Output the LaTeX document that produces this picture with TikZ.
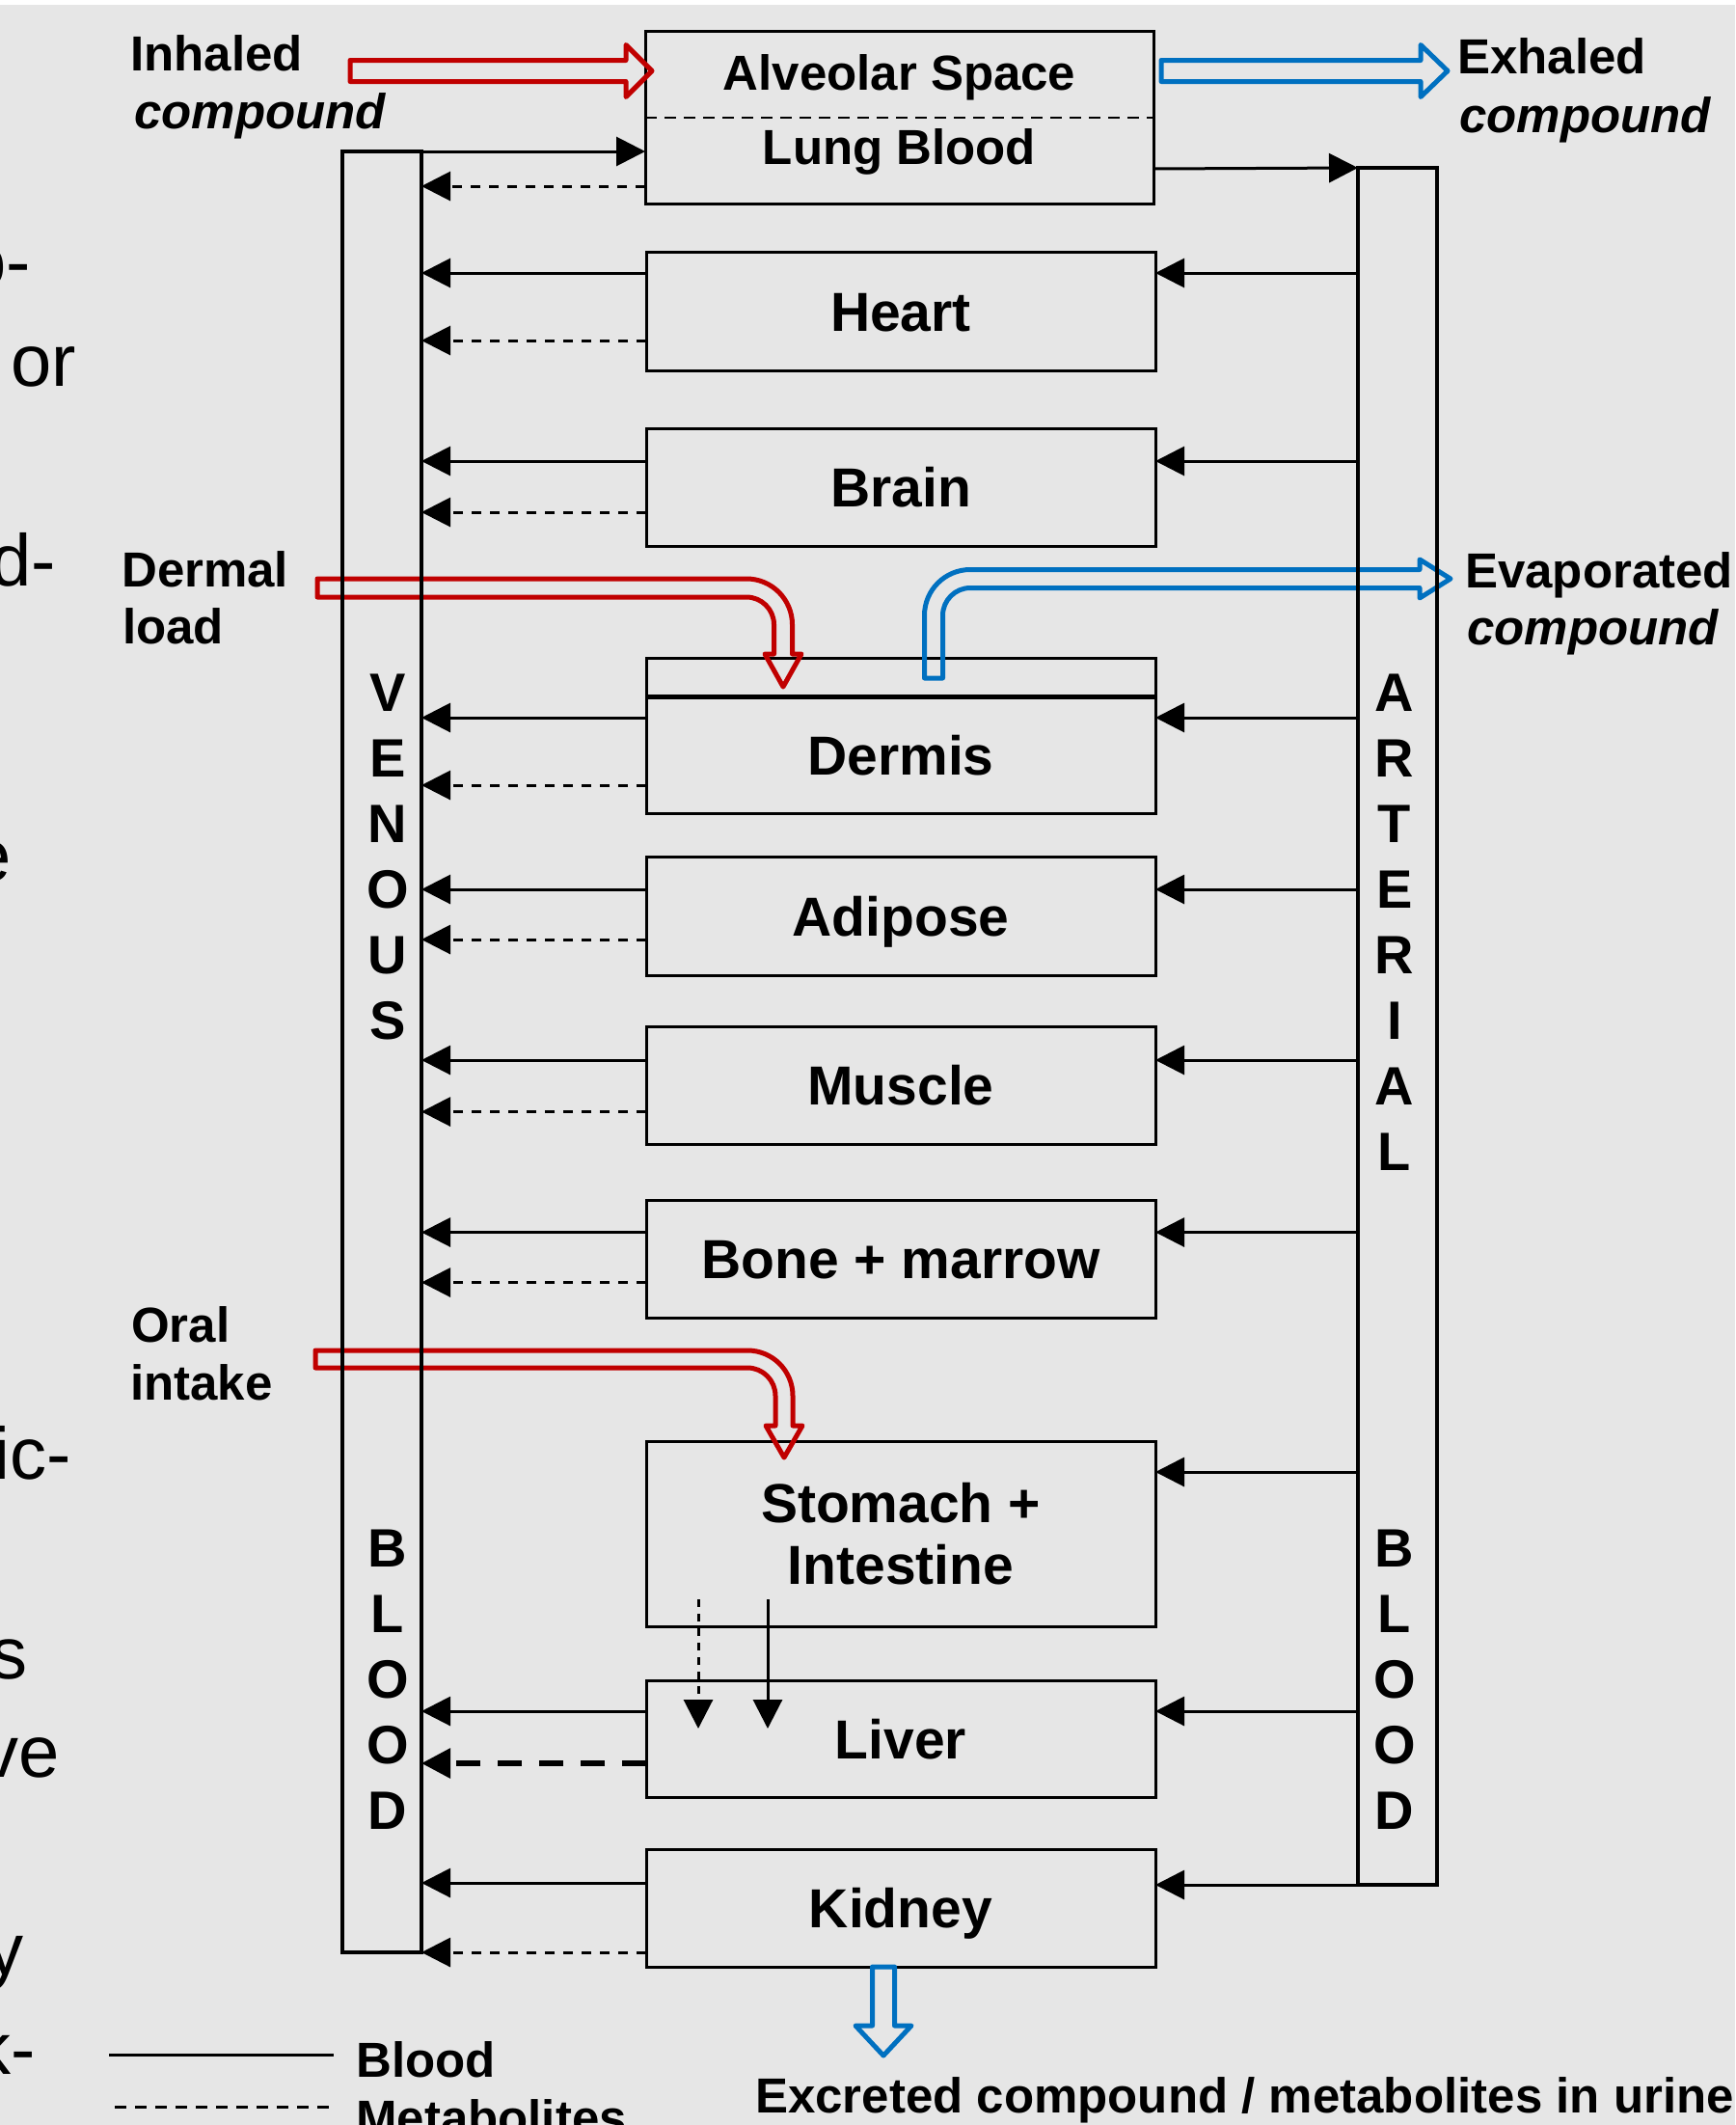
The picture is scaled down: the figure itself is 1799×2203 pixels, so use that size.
\documentclass[tikz,border=0pt]{standalone}
\usepackage{fontspec}
\setmainfont{Liberation Sans}
\usetikzlibrary{arrows.meta}
\definecolor{bg}{HTML}{E6E6E6}
\definecolor{redarr}{HTML}{C00000}
\definecolor{bluearr}{HTML}{0070C0}
\begin{document}
\begin{tikzpicture}[x=1pt,y=-1pt,
  organ/.style={draw, line width=3pt, minimum width=528pt, inner sep=0pt, outer sep=0pt,
     font=\fontsize{57}{64}\selectfont\bfseries, text height=41pt, text depth=0pt},
  bar/.style={draw, line width=4pt, minimum width=82pt, inner sep=0pt, outer sep=0pt},
  barletter/.style={anchor=base, inner sep=0pt, font=\fontsize{56}{64}\selectfont\bfseries},
  lbl/.style={anchor=base west, inner sep=0pt, font=\fontsize{51}{60}\selectfont\bfseries},
  lbli/.style={lbl, font=\fontsize{51}{60}\selectfont\bfseries\itshape},
  frag/.style={anchor=base east, inner sep=0pt, font=\fontsize{76}{90}\selectfont},
  flow/.style={line width=3pt, -{Triangle[length=30pt,width=30pt]}},
  metab/.style={flow, dash pattern=on 10pt off 9pt},
  hollowred/.style={draw=redarr, line width=5pt, line join=round},
  hollowblue/.style={draw=bluearr, line width=5pt, line join=round},
]
\useasboundingbox (0,0) rectangle (1799,2203);
\clip (0,0) rectangle (1799,2203);
\fill[white] (0,0) rectangle (1799,2203);
\fill[bg] (0,5) rectangle (1799,2203);

% fragments of neighbouring text
\node[frag] (f1) at (32,297) {o-};
\node[frag] (f2) at (79,400) {or};
\node[frag] (f3) at (58,607) {d-};
\node[frag] (f4) at (12,913) {e};
\node[frag] (f5) at (74,1533) {ic-};
\node[frag] (f6) at (29,1740) {s};
\node[frag] (f7) at (62,1842) {ve};
\node[frag] (f8) at (25,2047) {y};
\node[frag] (f9) at (37,2150) {k-};

% compartments
\node[organ, minimum width=527pt, minimum height=179pt] (alv) at (932.5,121.5) {};
\node[lbl, anchor=base] (alvt) at (932.5,93) {Alveolar Space};
\node[lbl, anchor=base] (lungt) at (932.5,170) {Lung Blood};
\draw[line width=2.5pt, dash pattern=on 12pt off 8pt] (alv.west |- 0,122) -- (alv.east |- 0,122);

\node[organ, minimum height=123pt] (heart) at (934,322.5) {Heart};
\node[organ, minimum height=122pt] (brain) at (934,505) {Brain};
\node[organ, minimum height=38pt] (skin) at (934,703) {};
\node[organ, minimum height=121pt] (dermis) at (934,782.5) {Dermis};
\draw[line width=5pt] (dermis.north west) -- (dermis.north east);
\node[organ, minimum height=123pt] (adipose) at (934,949.5) {Adipose};
\node[organ, minimum height=122pt] (muscle) at (934,1125) {Muscle};
\node[organ, minimum height=122pt] (bone) at (934,1305) {Bone + marrow};
\node[organ, minimum height=192pt, align=center, text height={}, text depth={}] (stomach) at (934,1590) {Stomach +\\Intestine};
\node[organ, minimum height=121pt] (liver) at (934,1802.5) {Liver};
\node[organ, minimum height=122pt] (kidney) at (934,1978) {Kidney};

% hollow intake / output arrows
\draw[hollowred] (363,62.5) -- (649,62.5) -- (649,46.5) -- (676,73.5) -- (649,100.5) -- (649,84.5) -- (363,84.5) -- cycle;
\draw[hollowblue] (1204,62.5) -- (1473,62.5) -- (1473,46.5) -- (1501,73.5) -- (1473,100.5) -- (1473,84.5) -- (1204,84.5) -- cycle;
\draw[hollowred] (329,600) -- (774,600) .. controls (800.2,600) and (821.5,621.3) .. (821.5,647.5)
   -- (821.5,678) -- (831,678) -- (812,712) -- (793,678) -- (802.5,678) -- (802.5,647.5)
   .. controls (802.5,631.8) and (789.7,619) .. (774,619) -- (329,619) -- cycle;
\draw[hollowblue] (958.5,703) -- (958.5,638) .. controls (958.5,611.8) and (979.8,590.5) .. (1006,590.5)
   -- (1472,590.5) -- (1472,580) -- (1504,600) -- (1472,620) -- (1472,609.5) -- (1006,609.5)
   .. controls (990.3,609.5) and (977.5,622.3) .. (977.5,638) -- (977.5,703) -- cycle;
\draw[hollowred] (327,1400) -- (775,1400) .. controls (801,1400) and (822,1421) .. (822,1447)
   -- (822,1478) -- (832,1478) -- (813,1511) -- (794,1478) -- (804,1478) -- (804,1447)
   .. controls (804,1431) and (791,1418) .. (775,1418) -- (327,1418) -- cycle;
\draw[hollowblue] (904.5,2039) -- (904.5,2100) -- (887,2100) -- (916,2131) -- (945,2100) -- (927.5,2100) -- (927.5,2039) -- cycle;

% blood bars
\node[bar, minimum height=1867pt] (venous) at (396,1090.5) {};
\node[bar, minimum height=1780pt] (arterial) at (1449,1064) {};
\foreach \l [count=\i] in {V,E,N,O,U,S}
  \node[barletter] (ven\i) at (402,{737+68*(\i-1)}) {\l};
\foreach \l [count=\i] in {B,L,O,O,D}
  \node[barletter] (vb\i) at (402,{1624+68*(\i-1)}) {\l};
\foreach \l [count=\i] in {A,R,T,E,R,I,A,L}
  \node[barletter] (art\i) at (1446,{737+68*(\i-1)}) {\l};
\foreach \l [count=\i] in {B,L,O,O,D}
  \node[barletter] (ab\i) at (1446,{1624+68*(\i-1)}) {\l};

% lung connections
\draw[flow] (venous.north east) -- (alv.west |- venous.north east);
\draw[metab] (alv.west |- 0,193) -- (venous.east |- 0,193);
\draw[flow] (alv.east |- 0,175) -- (arterial.north west);

% tissue connections
\foreach \n/\s/\d in {heart/283/353, brain/478/531, dermis/744/814, adipose/922/974,
                      muscle/1099/1152.5, bone/1277.5/1329.5} {
  \draw[flow] (\n.west |- 0,\s) -- (venous.east |- 0,\s);
  \draw[metab] (\n.west |- 0,\d) -- (venous.east |- 0,\d);
  \draw[flow] (arterial.west |- 0,\s) -- (\n.east |- 0,\s);
}
\draw[flow] (arterial.west |- 0,1526) -- (stomach.east |- 0,1526);
\draw[metab, dash pattern=on 8pt off 7pt] ([xshift=-210pt,yshift=28pt]stomach.south) -- ([xshift=-210pt,yshift=-50pt]liver.north);
\draw[flow] ([xshift=-138pt,yshift=28pt]stomach.south) -- ([xshift=-138pt,yshift=-50pt]liver.north);
\draw[flow] (liver.west |- 0,1774) -- (venous.east |- 0,1774);
\draw[flow, line width=6pt, dash pattern=on 25pt off 18pt] (liver.west |- 0,1828) -- (venous.east |- 0,1828);
\draw[flow] (arterial.west |- 0,1774) -- (liver.east |- 0,1774);
\draw[flow] (kidney.west |- 0,1952) -- (venous.east |- 0,1952);
\draw[metab] (kidney.west |- venous.south east) -- (venous.south east);
\draw[flow] (arterial.south west) -- (kidney.east |- arterial.south west);

% labels
\node[lbl] (inh1) at (135,73) {Inhaled};
\node[lbli] (inh2) at (139,133) {compound};
\node[lbl] (exh1) at (1511,76) {Exhaled};
\node[lbli] (exh2) at (1513,137) {compound};
\node[lbl] (der1) at (126,608) {Dermal};
\node[lbl] (der2) at (127,667) {load};
\node[lbl] (oral1) at (136,1391) {Oral};
\node[lbl] (oral2) at (135,1451) {intake};
\node[lbl] (eva1) at (1519,609) {Evaporated};
\node[lbli] (eva2) at (1521,668) {compound};
\node[lbl] (exc) at (783,2190) {Excreted compound / metabolites in urine};

% legend
\node[lbl] (legb) at (369,2153) {Blood};
\node[lbl] (legm) at (369,2213) {Metabolites};
\coordinate (lb0) at (113,2130);
\coordinate (lm0) at (119,2184);
\draw[line width=3pt] (lb0) -- (lb0 -| 346,0);
\draw[line width=3pt, dash pattern=on 12pt off 9pt] (lm0) -- (lm0 -| 346,0);
\end{tikzpicture}
\end{document}
